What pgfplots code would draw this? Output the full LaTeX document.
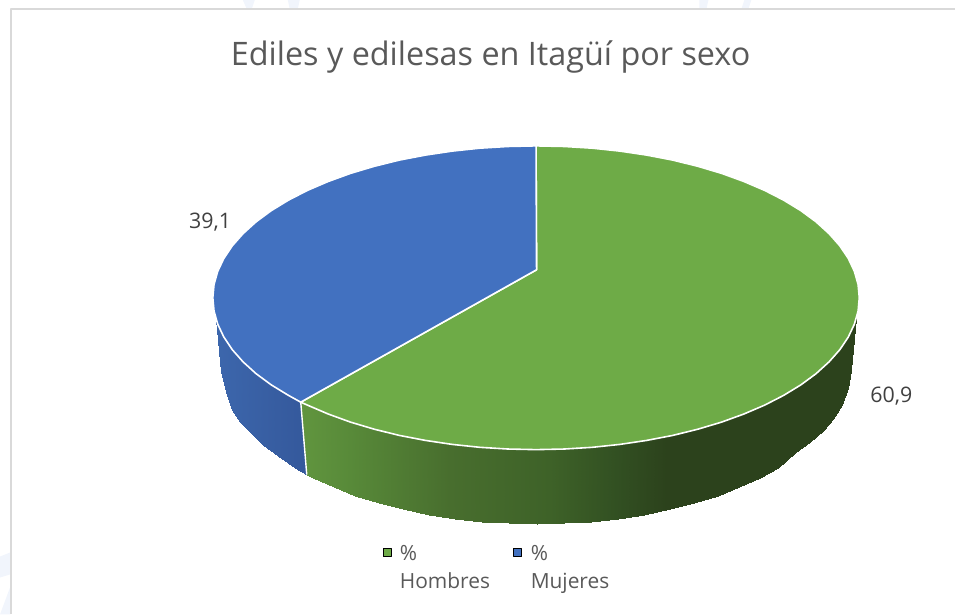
\documentclass[border=0pt]{standalone}
\usepackage{pgfplots}
\usepackage{fontspec}
\setmainfont{Open Sans}
\pgfplotsset{compat=1.18}
\definecolor{topgreen}{HTML}{6EAB47}
\definecolor{topblue}{HTML}{4271C0}
\definecolor{wm}{HTML}{F1F5FC}
\pgfplotsset{
 colormap={sideblue}{rgb255(0)=(62,105,175); rgb255(110)=(52,88,155); rgb255(660)=(52,88,155)},
 colormap={sidegreen}{rgb255(0)=(96,148,62); rgb255(107)=(96,148,62); rgb255(150)=(88,138,57); rgb255(250)=(72,110,46); rgb255(350)=(62,98,40); rgb255(417)=(50,80,34); rgb255(467)=(44,66,28); rgb255(660)=(44,66,28)},
}
\begin{document}
\begin{tikzpicture}
\begin{axis}[
 scale only axis, width=956bp, height=615bp,
 xmin=0, xmax=956, ymin=0, ymax=615, y dir=reverse,
 axis line style={draw=none}, ticks=none, clip=false,
 point meta min=200, point meta max=860,
 every axis plot/.append style={mark=none, line join=round},
]
% faint watermark
\addplot[fill=wm,draw=none] coordinates {(243,0)(255,0)(252,9)(247,9)} --cycle;
\addplot[fill=wm,draw=none] coordinates {(288,0)(300,0)(298,9)(290,9)} --cycle;
\addplot[fill=wm,draw=none] coordinates {(700,0)(709,0)(707,9)(700,9)} --cycle;
\addplot[fill=wm,draw=none] coordinates {(745,0)(752,0)(749,9)(742,9)} --cycle;
\addplot[fill=wm,draw=none] coordinates {(0,557)(10,553)(10,575)(0,578)} --cycle;
\addplot[fill=wm,draw=none] coordinates {(0,615)(10,588)(10,615)} --cycle;
% frame
\addplot[draw=black!15,line width=1.6bp] coordinates {(11,615)(11,9)(956,9)};

% blue side
\addplot[surf,shader=interp,point meta=x,colormap name=sideblue,mesh/rows=2] coordinates {
(216.5,319)(217.9,324.4)(224,337.3)(232.5,350)(243.3,362.2)(256.3,374)(271.5,385.2)(288.7,395.7)(301,402.5)

(221,372)(225.8,392)(231.8,410)(240,422)(250.6,432.4)(263.3,445)(278.1,456)(295,468.2)(307,475)
};
% green side
\addplot[surf,shader=interp,point meta=x,colormap name=sidegreen,mesh/rows=2] coordinates {
(301,402.5)(307.8,405.5)(328.6,414.4)(350.9,422.5)(374.7,429.6)(399.8,435.8)(425.9,440.8)(452.8,444.8)(480.3,447.7)(508.3,449.4)(536.5,450)(564.7,449.4)(592.7,447.7)(620.2,444.8)(647.1,440.8)(673.2,435.8)(698.3,429.6)(722.1,422.5)(744.4,414.4)(765.2,405.5)(784.3,395.7)(801.5,385.2)(816.7,374)(829.7,362.2)(840.5,350)(849,337.3)(855.1,324.4)(857,318)

(307,475)(313.6,478.4)(333.9,487.8)(355.7,496.1)(379,503.5)(403.5,509.9)(429,515)(455.2,519.2)(482.1,522.1)(509.5,523.9)(537,524.5)(564.5,523.9)(591.9,522.1)(618.8,519.2)(645,515)(670.5,509.9)(695,503.5)(718.3,496.1)(740.1,487.8)(760.4,478.4)(779,468.5)(795.9,453.4)(810.7,442)(823.4,431)(834,419)(842.2,405)(848.2,388)(851.7,370)
};
\addplot[draw=white,line width=1.4bp] coordinates {(301,402.5)(307,475)};

% top: 60.9 (Hombres)
\addplot[fill=topgreen,draw=white,line width=1.6bp] coordinates {
(536.5,146)(564.7,146.6)(592.7,148.3)(620.2,151.2)(647.1,155.2)(673.2,160.2)(698.3,166.4)(722.1,173.5)(744.4,181.6)(765.2,190.5)(784.3,200.3)(801.5,210.8)(816.7,222)(829.7,233.8)(840.5,246)(849,258.7)(855.1,271.6)(858.8,284.7)(860,298)(858.8,311.3)(855.1,324.4)(849,337.3)(840.5,350)(829.7,362.2)(816.7,374)(801.5,385.2)(784.3,395.7)(765.2,405.5)(744.4,414.4)(722.1,422.5)(698.3,429.6)(673.2,435.8)(647.1,440.8)(620.2,444.8)(592.7,447.7)(564.7,449.4)(536.5,450)(508.3,449.4)(480.3,447.7)(452.8,444.8)(425.9,440.8)(399.8,435.8)(374.7,429.6)(350.9,422.5)(328.6,414.4)(307.8,405.5)(301,402.5)(537,270)
} --cycle;
% top: 39.1 (Mujeres)
\addplot[fill=topblue,draw=white,line width=1.6bp] coordinates {
(301,402.5)(288.7,395.7)(271.5,385.2)(256.3,374)(243.3,362.2)(232.5,350)(224,337.3)(217.9,324.4)(214.2,311.3)(213,298)(214.2,284.7)(217.9,271.6)(224,258.7)(232.5,246)(243.3,233.8)(256.3,222)(271.5,210.8)(288.7,200.3)(307.8,190.5)(328.6,181.6)(350.9,173.5)(374.7,166.4)(399.8,160.2)(425.9,155.2)(452.8,151.2)(480.3,148.3)(508.3,146.6)(536.5,146)(537,270)
} --cycle;

% legend swatches
\addplot[only marks,mark=square*,mark size=4bp,mark options={draw=none,fill=topgreen}] coordinates {(387.5,553)};
\addplot[only marks,mark=square*,mark size=4bp,mark options={draw=none,fill=topblue}] coordinates {(518,553)};

\node[anchor=base,text=black!65,font=\fontsize{32.5}{33}\selectfont] at (axis cs:491,66) {Ediles y edilesas en Itagüí por sexo};
\node[anchor=base west,inner sep=0pt,text=black!75,font=\fontsize{21.5}{22}\selectfont] at (axis cs:189,229) {39,1};
\node[anchor=base west,inner sep=0pt,text=black!75,font=\fontsize{21.5}{22}\selectfont] at (axis cs:871,403) {60,9};
\node[anchor=base west,inner sep=0pt,text=black!65,font=\fontsize{21}{21}\selectfont] at (axis cs:400,561) {\%};
\node[anchor=base west,inner sep=0pt,text=black!65,font=\fontsize{21}{21}\selectfont] at (axis cs:400,589) {Hombres};
\node[anchor=base west,inner sep=0pt,text=black!65,font=\fontsize{21}{21}\selectfont] at (axis cs:531,561) {\%};
\node[anchor=base west,inner sep=0pt,text=black!65,font=\fontsize{21}{21}\selectfont] at (axis cs:531,589) {Mujeres};
\end{axis}
\end{tikzpicture}
\end{document}
